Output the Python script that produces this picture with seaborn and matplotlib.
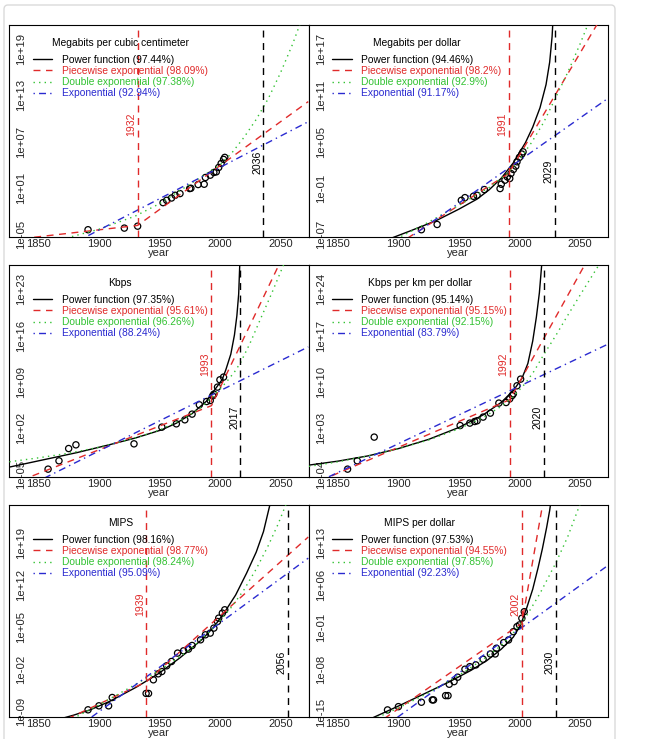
import numpy as np
import matplotlib
matplotlib.use("Agg")
import matplotlib.pyplot as plt
import seaborn as sns
from matplotlib.lines import Line2D
from matplotlib.patches import FancyBboxPatch
from matplotlib.ticker import NullLocator
from matplotlib.transforms import blended_transform_factory

# all values below are log10 of the quantity

# Megabits per cubic centimeter
density_title = "Megabits per cubic centimeter"
density_fit = ["97.44", "98.09", "97.38", "92.94"]
density_break, density_sing = 1932, 2036
density_pt_years = [1891, 1921, 1932, 1953, 1956, 1960, 1963, 1967, 1975, 1976,
                    1982, 1987, 1988, 1992, 1995, 1997, 1999, 2001, 2003, 2004]
density_pt_logs = [-4.36, -4.15, -3.9, -0.86, -0.56, -0.26, 0.09, 0.31, 0.96, 1.0,
                   1.48, 1.52, 2.39, 2.69, 3.04, 3.12, 3.69, 4.2, 4.73, 4.99]
density_pow_years = []
density_pow_logs = []
density_pw_years = [1826, 1932, 2073]
density_pw_logs = [-5.7, -3.8, 12.2]
density_dexp_years = [1860, 1900, 1930, 1950, 1975, 2000, 2010, 2020, 2030, 2040, 2050, 2060, 2068]
density_dexp_logs = [-6.0, -4.3, -2.6, -1.0, 1.5, 4.0, 5.6, 7.6, 9.9, 12.6, 15.9, 19.6, 23.0]
density_exp_years = [1826, 2073]
density_exp_logs = [-10.4, 9.6]

# Megabits per dollar
mbd_title = "Megabits per dollar"
mbd_fit = ["94.46", "98.2", "92.9", "91.17"]
mbd_break, mbd_sing = 1991, 2029
mbd_pt_years = [1919, 1932, 1952, 1955, 1962, 1965, 1971, 1984, 1985, 1988,
                1990, 1992, 1993, 1995, 1997, 1998, 2000, 2002, 2003]
mbd_pt_logs = [-6.36, -5.68, -2.56, -2.21, -2.04, -1.91, -1.17, -1.04, -0.48, 0.04,
               0.47, 0.26, 0.91, 1.43, 1.86, 2.42, 2.99, 3.42, 3.71]
mbd_pow_years = [1885, 1895, 1910, 1931, 1950, 1965, 1975, 1985, 1995, 2005, 2011, 2017, 2022, 2025, 2027, 2028]
mbd_pow_logs = [-8.0, -7.4, -6.5, -5.2, -3.7, -2.4, -1.2, 0.3, 2.3, 4.9, 6.9, 9.4, 12.4, 15.3, 18.6, 21.5]
mbd_pw_years = [1890, 1991, 2073]
mbd_pw_logs = [-9.2, 0.9, 22.5]
mbd_dexp_years = [1890, 1920, 1950, 1975, 1990, 2000, 2010, 2020, 2029, 2040, 2050, 2060]
mbd_dexp_logs = [-8.2, -5.8, -3.2, -0.9, 0.9, 2.7, 4.9, 7.5, 10.4, 14.0, 17.6, 21.5]
mbd_exp_years = [1890, 2073]
mbd_exp_logs = [-9.5, 10.6]

# Kbps
kbps_title = "Kbps"
kbps_fit = ["97.35", "95.61", "96.26", "88.24"]
kbps_break, kbps_sing = 1993, 2017
kbps_pt_years = [1858, 1867, 1875, 1881, 1929, 1952, 1964, 1971, 1977, 1983,
                 1989, 1992, 1994, 1995, 1998, 2000, 2003]
kbps_pt_logs = [-4.21, -2.95, -1.09, -0.53, -0.38, 2.15, 2.65, 3.26, 4.12, 5.53,
                6.03, 6.18, 6.89, 7.15, 8.21, 9.32, 9.73]
kbps_pow_years = [1826, 1854, 1882, 1909, 1930, 1952, 1964, 1977, 1989, 2002, 2005, 2009, 2012, 2014, 2015.5, 2016.4]
kbps_pow_logs = [-3.9, -2.8, -1.7, -0.5, 0.5, 1.75, 2.75, 4.2, 6.1, 9.4, 10.9, 13.2, 16.1, 19.0, 22.3, 26.8]
kbps_pw_years = [1826, 1993, 2073]
kbps_pw_logs = [-6.6, 5.4, 36.0]
kbps_dexp_years = [1826, 1850, 1875, 1900, 1930, 1950, 1970, 1985, 1995, 2005, 2012, 2017, 2025, 2033, 2043, 2053]
kbps_dexp_logs = [-3.1, -2.5, -1.8, -0.9, 0.5, 1.7, 3.4, 5.2, 7.0, 8.9, 10.5, 11.9, 14.9, 18.3, 22.5, 26.9]
kbps_exp_years = [1826, 2073]
kbps_exp_logs = [-8.2, 14.3]

# Kbps per km per dollar
kbpsd_title = "Kbps per km per dollar"
kbpsd_fit = ["95.14", "95.15", "92.15", "83.79"]
kbpsd_break, kbpsd_sing = 1992, 2020
kbpsd_pt_years = [1858, 1866, 1880, 1951, 1959, 1963, 1965, 1970, 1976, 1983,
                  1989, 1992, 1994, 1995, 1998, 2001]
kbpsd_pt_logs = [-3.21, -1.95, 1.64, 3.39, 3.76, 4.0, 4.11, 4.67, 5.27, 6.79,
                 6.88, 7.44, 7.94, 8.2, 9.41, 10.42]
kbpsd_pow_years = [1826, 1850, 1875, 1900, 1925, 1950, 1970, 1985, 1995, 2002, 2007, 2011, 2014, 2016.5, 2018.4]
kbpsd_pow_logs = [-2.6, -2.0, -1.2, -0.1, 1.3, 3.1, 5.0, 6.9, 8.7, 10.5, 12.8, 16.2, 19.8, 23.5, 27.7]
kbpsd_pw_years = [1826, 1992, 2073]
kbpsd_pw_logs = [-5.7, 7.3, 34.0]
kbpsd_dexp_years = [1826, 1850, 1875, 1900, 1925, 1950, 1970, 1985, 1995, 2005, 2012, 2020, 2030, 2039, 2050, 2066]
kbpsd_dexp_logs = [-2.8, -2.1, -1.2, -0.1, 1.2, 2.9, 4.6, 6.3, 7.8, 9.8, 11.6, 14.1, 17.0, 19.8, 23.1, 27.8]
kbpsd_exp_years = [1826, 2073]
kbpsd_exp_logs = [-5.8, 15.7]

# MIPS
mips_title = "MIPS"
mips_fit = ["98.16", "98.77", "98.24", "95.09"]
mips_break, mips_sing = 1939, 2056
mips_pt_years = [1891, 1900, 1908, 1911, 1939, 1941, 1945, 1949, 1952, 1956, 1960, 1965,
                 1970, 1974, 1977, 1984, 1988, 1992, 1995, 1998, 1999, 2002, 2004]
mips_pt_logs = [-8.71, -8.05, -8.05, -6.67, -6.0, -6.0, -3.74, -2.75, -2.37, -1.42, -0.71, 0.68,
                1.06, 1.34, 1.94, 2.88, 3.71, 3.99, 4.82, 5.91, 6.47, 7.3, 7.85]
mips_pow_years = [1870, 1879, 1893, 1909, 1931, 1949, 1967, 1985, 1995, 2004, 2013, 2022, 2030, 2036, 2041.5]
mips_pow_logs = [-10.1, -9.6, -8.7, -7.3, -4.95, -2.75, -0.1, 2.9, 5.0, 7.5, 10.3, 13.9, 17.4, 20.8, 25.4]
mips_pw_years = [1826, 1939, 2073]
mips_pw_logs = [-14.7, -4.1, 19.9]
mips_dexp_years = [1870, 1880, 1900, 1925, 1950, 1975, 1995, 2010, 2020, 2030, 2040, 2048, 2055]
mips_dexp_logs = [-11.0, -10.0, -7.9, -5.1, -2.2, 1.2, 4.9, 8.4, 11.2, 14.6, 18.5, 22.0, 25.5]
mips_exp_years = [1826, 2073]
mips_exp_logs = [-19.9, 16.4]

# MIPS per dollar
mipsd_title = "MIPS per dollar"
mipsd_fit = ["97.53", "94.55", "97.85", "92.23"]
mipsd_break, mipsd_sing = 2002, 2030
mipsd_pt_years = [1891, 1900, 1919, 1928, 1929, 1939, 1941, 1942, 1946, 1949, 1955, 1959,
                  1964, 1970, 1976, 1980, 1981, 1987, 1991, 1995, 1998, 2000, 2002, 2004]
mipsd_pt_logs = [-14.63, -14.09, -13.36, -12.98, -12.98, -12.27, -12.27, -10.39, -9.96, -9.23, -7.91, -7.49,
                 -7.2, -6.26, -5.39, -5.39, -4.45, -3.52, -3.08, -1.71, -0.88, -0.6, 0.5, 1.59]
mipsd_pow_years = [1870, 1878, 1901, 1920, 1942, 1960, 1973, 1985, 1995, 2001, 2006, 2011, 2015.5, 2019, 2022.5, 2025, 2026.5]
mipsd_pow_logs = [-16.7, -16.0, -13.9, -12.1, -10.0, -8.1, -6.5, -4.6, -2.6, -0.6, 2.2, 5.3, 8.9, 12.0, 15.5, 18.3, 20.5]
mipsd_pw_years = [1826, 2002, 2025]
mipsd_pw_logs = [-24.7, -0.3, 25.9]
mipsd_dexp_years = [1870, 1878, 1900, 1925, 1950, 1970, 1985, 1995, 2005, 2017, 2030, 2040, 2050]
mipsd_dexp_logs = [-17.0, -16.3, -14.3, -11.8, -8.9, -6.3, -4.0, -1.9, 0.6, 4.6, 9.6, 14.0, 19.3]
mipsd_exp_years = [1826, 2073]
mipsd_exp_logs = [-26.4, 9.2]

year_ticks = [1850, 1900, 1950, 2000, 2050]
panel_yticks = [[-5, 1, 7, 13, 19], [-7, -1, 5, 11, 17], [-5, 2, 9, 16, 23],
                [-4, 3, 10, 17, 24], [-9, -2, 5, 12, 19], [-15, -8, -1, 6, 13]]
panel_ylims = [(-5.3, 22.1), (-7.3, 20.1), (-5.4, 26.7), (-4.4, 27.7), (-9.9, 25.2), (-15.8, 19.2)]
sing_label_y = [0.35, 0.31, 0.28, 0.28, 0.26, 0.26]

panels = [
    (density_title, density_fit, density_break, density_sing,
     (density_pt_years, density_pt_logs), (density_pow_years, density_pow_logs),
     (density_pw_years, density_pw_logs), (density_dexp_years, density_dexp_logs),
     (density_exp_years, density_exp_logs)),
    (mbd_title, mbd_fit, mbd_break, mbd_sing,
     (mbd_pt_years, mbd_pt_logs), (mbd_pow_years, mbd_pow_logs),
     (mbd_pw_years, mbd_pw_logs), (mbd_dexp_years, mbd_dexp_logs),
     (mbd_exp_years, mbd_exp_logs)),
    (kbps_title, kbps_fit, kbps_break, kbps_sing,
     (kbps_pt_years, kbps_pt_logs), (kbps_pow_years, kbps_pow_logs),
     (kbps_pw_years, kbps_pw_logs), (kbps_dexp_years, kbps_dexp_logs),
     (kbps_exp_years, kbps_exp_logs)),
    (kbpsd_title, kbpsd_fit, kbpsd_break, kbpsd_sing,
     (kbpsd_pt_years, kbpsd_pt_logs), (kbpsd_pow_years, kbpsd_pow_logs),
     (kbpsd_pw_years, kbpsd_pw_logs), (kbpsd_dexp_years, kbpsd_dexp_logs),
     (kbpsd_exp_years, kbpsd_exp_logs)),
    (mips_title, mips_fit, mips_break, mips_sing,
     (mips_pt_years, mips_pt_logs), (mips_pow_years, mips_pow_logs),
     (mips_pw_years, mips_pw_logs), (mips_dexp_years, mips_dexp_logs),
     (mips_exp_years, mips_exp_logs)),
    (mipsd_title, mipsd_fit, mipsd_break, mipsd_sing,
     (mipsd_pt_years, mipsd_pt_logs), (mipsd_pow_years, mipsd_pow_logs),
     (mipsd_pw_years, mipsd_pw_logs), (mipsd_dexp_years, mipsd_dexp_logs),
     (mipsd_exp_years, mipsd_exp_logs)),
]

sns.set_style("white")
plt.rcParams['font.family'] = ['Liberation Sans', 'DejaVu Sans']

RED, GREEN, BLUE = '#E02A2A', '#33C233', '#2A2AD0'
DASH = (0, (5, 4))
DOT = (0, (1, 3))
DOTDASH = (0, (1, 3, 5, 3))
LW = 1.0

W, H = 648, 739
fig = plt.figure(figsize=(W / 100, H / 100), dpi=100)
fig.add_artist(FancyBboxPatch((4 / W, -0.05), 611 / W, 1.05 - 5 / H,
                              boxstyle="round,pad=0,rounding_size=0.006",
                              transform=fig.transFigure, fc='none', ec='#DADADA', lw=1))

lefts = [9, 308.5]
tops = [25, 265, 505]
axes, legends = [], []
for i, (title, fit, brk, sing, pts, pw, pwc, dexp, expo) in enumerate(panels):
    l, t = lefts[i % 2], tops[i // 2]
    ax = fig.add_axes([l / W, 1 - (t + 212) / H, 299.5 / W, 212 / H])
    ax.set_yscale('log')

    sns.scatterplot(x=pts[0], y=10.0 ** np.array(pts[1]), ax=ax, marker='o', s=20,
                    facecolor='none', edgecolor='black', linewidth=0.9, zorder=2)
    if pw[0]:
        sns.lineplot(x=pw[0], y=10.0 ** np.array(pw[1]), ax=ax, estimator=None,
                     color='black', lw=LW, zorder=3)
    sns.lineplot(x=pwc[0], y=10.0 ** np.array(pwc[1]), ax=ax, estimator=None,
                 color=RED, lw=LW, linestyle=DASH, zorder=3)
    sns.lineplot(x=dexp[0], y=10.0 ** np.array(dexp[1]), ax=ax, estimator=None,
                 color=GREEN, lw=LW, linestyle=DOT, zorder=3)
    sns.lineplot(x=expo[0], y=10.0 ** np.array(expo[1]), ax=ax, estimator=None,
                 color=BLUE, lw=LW, linestyle=DOTDASH, zorder=3)

    ax.axvline(brk, color=RED, lw=LW, linestyle=DASH, zorder=3)
    ax.axvline(sing, color='black', lw=LW, linestyle=DASH, zorder=3)
    trans = blended_transform_factory(ax.transData, ax.transAxes)
    ax.text(brk - 1, 0.53, str(brk), transform=trans, rotation=90, ha='right',
            va='center', color=RED, fontsize=7.6)
    ax.text(sing - 1, sing_label_y[i], str(sing), transform=trans, rotation=90,
            ha='right', va='center', color='black', fontsize=7.6)

    lo, hi = panel_ylims[i]
    ax.set_ylim(10.0 ** lo, 10.0 ** hi)
    ax.set_xlim(1825.7, 2073.2)
    ticks = panel_yticks[i]
    ax.set_yticks(10.0 ** np.array(ticks, dtype=float))
    ax.set_yticklabels([f"1e{v:+03d}" for v in ticks])
    ax.yaxis.set_minor_locator(NullLocator())
    ax.set_xticks(year_ticks)
    ax.tick_params(axis='y', direction='in', length=3, pad=-12.5, labelsize=8.2)
    ax.tick_params(axis='x', direction='in', length=3, pad=1.5, labelsize=8)
    for lab in ax.get_yticklabels():
        lab.set_rotation(90)
        lab.set_va('center')
    ax.set_xlabel('year', fontsize=8, labelpad=-1)
    ax.set_ylabel('')
    for sp in ax.spines.values():
        sp.set_color('black')
        sp.set_linewidth(0.8)

    handles = [Line2D([], [], color='black', lw=LW),
               Line2D([], [], color=RED, lw=LW, linestyle=DASH),
               Line2D([], [], color=GREEN, lw=LW, linestyle=DOT),
               Line2D([], [], color=BLUE, lw=LW, linestyle=DOTDASH)]
    labels = [f"Power function ({fit[0]}%)", f"Piecewise exponential ({fit[1]}%)",
              f"Double exponential ({fit[2]}%)", f"Exponential ({fit[3]}%)"]
    leg = ax.legend(handles, labels, loc='upper left', bbox_to_anchor=(0.08, 0.86),
                    frameon=False, fontsize=7.4, handlelength=1.9, handletextpad=0.9,
                    labelspacing=0.12, borderpad=0, borderaxespad=0)
    for txt, c in zip(leg.get_texts(), ['black', RED, GREEN, BLUE]):
        txt.set_color(c)
    axes.append(ax)
    legends.append((leg, title))

# legend titles centred over each legend block
fig.canvas.draw()
renderer = fig.canvas.get_renderer()
for ax, (leg, title) in zip(axes, legends):
    bb = leg.get_window_extent(renderer)
    cx = ax.transAxes.inverted().transform(((bb.x0 + bb.x1) / 2, 0))[0]
    ax.text(cx, 0.915, title, transform=ax.transAxes, ha='center', va='center',
            fontsize=7.4, color='black')

fig.savefig('out.png', dpi=100, facecolor='white')
